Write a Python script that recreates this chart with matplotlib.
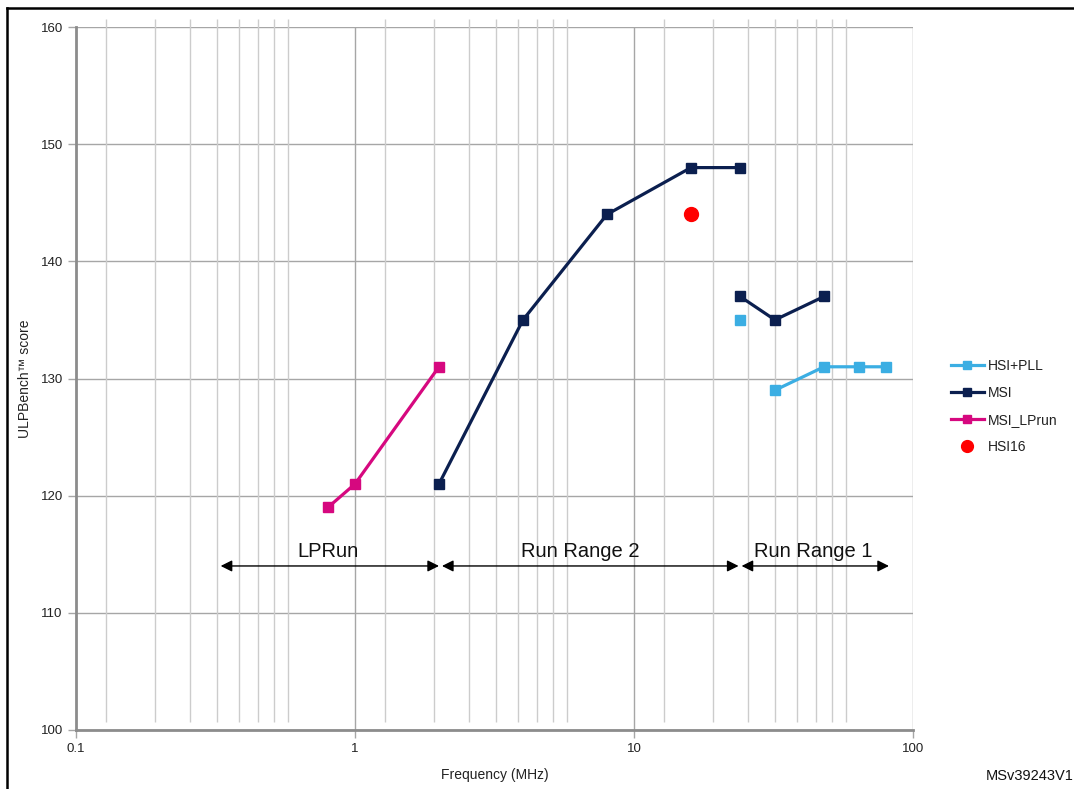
import numpy as np
import matplotlib
matplotlib.use("Agg")
import matplotlib.pyplot as plt
from matplotlib.lines import Line2D
import matplotlib.transforms as mtransforms

plt.rcParams['font.family'] = ['Liberation Sans', 'DejaVu Sans']

# ---- data ----
hsi_pll_x = [24, np.nan, 32, 48, 64, 80]
hsi_pll_y = [135, np.nan, 129, 131, 131, 131]
msi_x = [2, 4, 8, 16, 24, np.nan, 24, 32, 48]
msi_y = [121, 135, 144, 148, 148, np.nan, 137, 135, 137]
msi_lprun_x = [0.8, 1, 2]
msi_lprun_y = [119, 121, 131]
hsi16_x = [16]
hsi16_y = [144]

ranges = ["LPRun", "Run Range 2", "Run Range 1"]
range_start = [0.33, 2.05, 24.3]
range_end = [2.0, 23.7, 82]
range_label_x = [0.8, 6.4, 44]
arrow_y = 114
label_y = 114.45

y_ticks = [100, 110, 120, 130, 140, 150, 160]
x_ticks = [0.1, 1, 10, 100]
x_tick_labels = ["0.1", "1", "10", "100"]

c_pll = '#3BAEE3'
c_msi = '#0B1F4F'
c_lp = '#D6087F'
c_red = '#FF0000'

fig = plt.figure(figsize=(10.74, 7.89), dpi=100)
ax = fig.add_axes([76/1074, 59/789, (913-76)/1074, 703/789])
ax.set_xscale('log')
ax.set_xlim(0.1, 100)
ax.set_ylim(100, 160)

# grid
for yv in y_ticks:
    ax.axhline(yv, color='#A6A6A6', lw=1.0, zorder=1)
blend = mtransforms.blended_transform_factory(ax.transData, ax.transAxes)
minor = [m * 0.64 * 10.0**d for d in (-1, 0, 1) for m in range(2, 10)]
ax.vlines(minor, 0.0114, 1.0114, transform=blend, colors='#CCCCCC', lw=1.0, clip_on=False, zorder=1)
ax.vlines([1, 10, 100], 0, 1, transform=blend, colors='#A6A6A6', lw=1.0, zorder=1)

for s in ['top', 'right']:
    ax.spines[s].set_visible(False)
for s in ['left', 'bottom']:
    ax.spines[s].set_color('#8C8C8C')
    ax.spines[s].set_linewidth(2.0)

ax.set_yticks(y_ticks)
ax.set_xticks(x_ticks)
ax.set_xticklabels(x_tick_labels)
ax.xaxis.set_minor_locator(matplotlib.ticker.NullLocator())
ax.tick_params(axis='both', which='major', length=6, width=1, color='#A6A6A6',
               labelsize=9.5, labelcolor='#222222')
ax.tick_params(axis='x', pad=3.5)

# series
ax.plot(hsi_pll_x, hsi_pll_y, color=c_pll, lw=2.3, marker='s', ms=6.5, zorder=3, label='HSI+PLL')
ax.plot(msi_x, msi_y, color=c_msi, lw=2.3, marker='s', ms=6.5, zorder=3, label='MSI')
ax.plot(msi_lprun_x, msi_lprun_y, color=c_lp, lw=2.3, marker='s', ms=6.5, zorder=3, label='MSI_LPrun')
ax.plot(hsi16_x, hsi16_y, color=c_red, lw=0, marker='o', ms=10, zorder=4, label='HSI16')

# range arrows
for name, x0, x1, lx in zip(ranges, range_start, range_end, range_label_x):
    ax.annotate('', xy=(x0, arrow_y), xytext=(x1, arrow_y),
                arrowprops=dict(arrowstyle='<|-|>', color='black', lw=1.0,
                                mutation_scale=17, shrinkA=0, shrinkB=0), zorder=5)
    ax.text(lx, label_y, name, ha='center', va='bottom', fontsize=14.5, color='#111111', zorder=5)

ax.set_xlabel('Frequency (MHz)', fontsize=10, color='#222222', labelpad=9)
ax.set_ylabel('ULPBench\u2122 score', fontsize=10, color='#222222', labelpad=6)

leg = fig.legend(handles=[h for h in ax.get_lines() if h.get_label() in ('HSI+PLL', 'MSI', 'MSI_LPrun', 'HSI16')],
                 loc='upper left', bbox_to_anchor=(945/1074, 1 - 353/789),
                 frameon=False, fontsize=10, handlelength=2.4, labelspacing=0.95,
                 handletextpad=0.3, borderaxespad=0, markerscale=0.85)
for t in leg.get_texts():
    t.set_color('#222222')

fig.text(1.0, 1 - 776/789, 'MSv39243V1', ha='right', va='center', fontsize=10.5, color='#111111')

# outer frame (left and top)
fig.add_artist(Line2D([7/1074, 7/1074], [0, 1 - 8/789], transform=fig.transFigure, color='black', lw=1.8))
fig.add_artist(Line2D([7/1074, 1], [1 - 8/789, 1 - 8/789], transform=fig.transFigure, color='black', lw=1.8))

fig.savefig('out.png', dpi=100)
